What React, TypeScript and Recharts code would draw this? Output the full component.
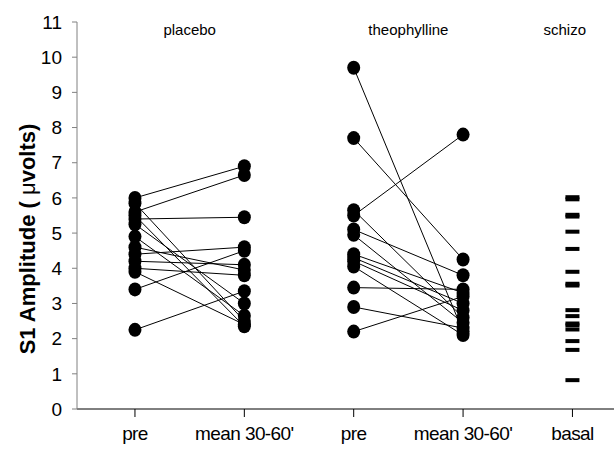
import React from "react";
import {
  ComposedChart,
  Line,
  Scatter,
  XAxis,
  YAxis,
  ReferenceDot,
} from "recharts";

const categories = ["pre", "mean 30-60'", "pre", "mean 30-60'", "basal"];
const yTicks = [0, 1, 2, 3, 4, 5, 6, 7, 8, 9, 10, 11];

// each index is one subject: pre -> mean 30-60'
const placeboPre = [6.0, 5.6, 5.4, 5.85, 5.5, 5.25, 4.9, 4.6, 4.4, 4.2, 4.0, 3.9, 3.4, 2.25];
const placeboPost = [6.9, 6.65, 5.45, 2.5, 2.35, 3.0, 2.65, 3.95, 4.6, 4.1, 3.8, 2.4, 4.5, 3.35];

const theoPre = [9.7, 7.7, 5.5, 5.65, 5.1, 4.95, 4.4, 4.3, 4.2, 4.05, 3.45, 2.9, 2.2];
const theoPost = [2.2, 4.25, 7.8, 2.6, 3.8, 2.45, 3.3, 3.0, 2.8, 2.1, 3.4, 2.3, 3.2];

const schizoBasal = [6.02, 5.96, 5.52, 5.47, 5.04, 4.55, 3.9, 3.56, 3.51, 2.81, 2.64, 2.43, 2.38, 2.26, 1.93, 1.68, 0.82];

const groupLabels = [
  { name: "placebo", x: 1.5 },
  { name: "theophylline", x: 3.5 },
  { name: "schizo", x: 4.93 },
];

const renderDot = (p: any) => (
  <ellipse key={`d-${p.index}-${p.cx}`} cx={p.cx} cy={p.cy} rx={6.5} ry={7} fill="#000" />
);

const renderDash = (p: any) => (
  <rect x={p.cx - 7} y={p.cy - 2} width={14} height={4} fill="#000" />
);

const YLabel = (props: any) => {
  const vb = props.viewBox || { x: 0, y: 22, width: 77, height: 387 };
  const x = 35;
  const y = vb.y + 217;
  return (
    <text
      x={x}
      y={y}
      transform={`rotate(-90 ${x} ${y})`}
      textAnchor="middle"
      fontSize={22}
      fill="#000"
    >
      <tspan fontWeight="bold">S1 Amplitude ( </tspan>
      <tspan>μ</tspan>
      <tspan fontWeight="bold">volts)</tspan>
    </text>
  );
};

export default function App() {
  const pairs = [
    ...placeboPre.map((v, i) => [{ x: 1, y: v }, { x: 2, y: placeboPost[i] }]),
    ...theoPre.map((v, i) => [{ x: 3, y: v }, { x: 4, y: theoPost[i] }]),
  ];
  const basal = schizoBasal.map((v) => ({ x: 5, y: v }));

  return (
    <div style={{ position: "absolute", left: 0, top: 0, fontFamily: "'Liberation Sans', Arial, sans-serif" }}>
      <ComposedChart width={614} height={450} margin={{ top: 22, right: 0, bottom: 0, left: 0 }}>
        <XAxis
          type="number"
          dataKey="x"
          domain={[0.47, 5.38]}
          allowDataOverflow
          ticks={[1, 2, 3, 4, 5]}
          tickFormatter={(v: number) => categories[v - 1]}
          height={41}
          tickSize={8}
          tickMargin={10}
          tick={{ fontSize: 19, fill: "#000", letterSpacing: -0.6 }}
          stroke="#000"
          interval={0}
        />
        <YAxis
          type="number"
          domain={[0, 11]}
          ticks={yTicks}
          width={77}
          tickSize={5}
          tickMargin={10}
          tick={{ fontSize: 19, fill: "#000" }}
          stroke="#808080"
          interval={0}
          label={<YLabel />}
        />
        {pairs.map((d, i) => (
          <Line
            key={i}
            data={d}
            dataKey="y"
            stroke="#000"
            strokeWidth={1}
            dot={renderDot}
            activeDot={false}
            isAnimationActive={false}
          />
        ))}
        <Scatter data={basal} dataKey="y" shape={renderDash} isAnimationActive={false} />
        {groupLabels.map((g) => (
          <ReferenceDot
            key={g.name}
            x={g.x}
            y={10.77}
            r={1}
            fill="none"
            stroke="none"
            label={{ value: g.name, position: "center", fontSize: 15, fill: "#000" }}
          />
        ))}
      </ComposedChart>
    </div>
  );
}
